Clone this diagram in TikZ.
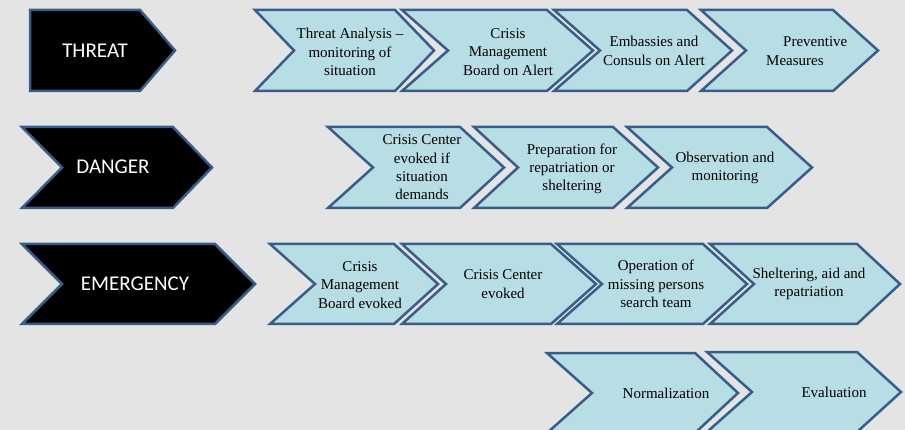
\documentclass[tikz,border=0pt]{standalone}
\usepackage{fontspec}
\setmainfont{Liberation Serif}
\newfontfamily\stagefont{Carlito}
\definecolor{bgGray}{RGB}{228,228,228}
\definecolor{chevFill}{RGB}{183,222,228}
\definecolor{chevLine}{RGB}{56,93,138}

\begin{document}
\begin{tikzpicture}[x=1pt,y=-1pt,
	chev/.style={draw=chevLine,line width=2.5pt,fill=chevFill},
	stage/.style={draw=chevLine,line width=2.5pt,fill=black},
	chevtext/.style={align=center,inner sep=0pt,font=\rmfamily\fontsize{15}{18.3}\selectfont},
	stagetext/.style={inner sep=0pt,text=white,font=\stagefont\fontsize{21}{25}\selectfont}]
	 \clip (0,0) rectangle (905,430);
	 \fill[bgGray] (0,0) rectangle (905,430);
	 
	 %Threat
	 \draw[stage] (30,10) -- (140,10) -- (175,50.5) -- (140,91) -- (30,91) -- cycle;
	 \node[stagetext] (threat) at (95,51) {THREAT};
	 
	 \draw[chev] (255,10) -- (395,10) -- (434,50.5) -- (395,91) -- (255,91) -- (294,50.5) -- cycle;
	 \draw[chev] (402,10) -- (547,10) -- (593,50.5) -- (547,91) -- (402,91) -- (448,50.5) -- cycle;
	 \draw[chev] (554,10) -- (687,10) -- (732,50.5) -- (687,91) -- (554,91) -- (600,50.5) -- cycle;
	 \draw[chev] (701,10) -- (833,10) -- (878,50.5) -- (833,91) -- (701,91) -- (746,50.5) -- cycle;
	 \node[chevtext] (t1) at (350,52) {Threat Analysis --\\monitoring of\\situation};
	 \node[chevtext] (t2) at (508,52) {Crisis\\Management\\Board on Alert};
	 \node[chevtext] (t3) at (654,51) {Embassies and\\Consuls on Alert};
	 \node[chevtext,align=left,anchor=west] (t4) at (766,51) {\hspace*{17pt}Preventive\\Measures};
	 
	 %Danger
	 \draw[stage] (22,127) -- (173,127) -- (212,167.5) -- (173,208) -- (22,208) -- (62,167.5) -- cycle;
	 \node[stagetext] (danger) at (113,167) {DANGER};
	 
	 \draw[chev] (328,127) -- (460,127) -- (504,167.5) -- (460,208) -- (328,208) -- (373,167.5) -- cycle;
	 \draw[chev] (474,127) -- (613,127) -- (658,167.5) -- (613,208) -- (474,208) -- (518,167.5) -- cycle;
	 \draw[chev] (627,127) -- (767,127) -- (812,167.5) -- (767,208) -- (627,208) -- (672,167.5) -- cycle;
	 \node[chevtext] (d1) at (422,167.5) {Crisis Center\\evoked if\\situation\\demands};
	 \node[chevtext] (d2) at (572,169) {Preparation for\\repatriation or\\sheltering};
	 \node[chevtext] (d3) at (725,168) {Observation and\\monitoring};
	 
	 %Emergency
	 \draw[stage] (22,244) -- (215,244) -- (255,284) -- (215,324) -- (22,324) -- (62,284) -- cycle;
	 \node[stagetext] (emergency) at (135,284) {EMERGENCY};
	 
	 \draw[chev] (270,244) -- (394,244) -- (438,284) -- (394,324) -- (270,324) -- (315,284) -- cycle;
	 \draw[chev] (402,244) -- (551,244) -- (596,284) -- (551,324) -- (402,324) -- (446,284) -- cycle;
	 \draw[chev] (557,244) -- (703,244) -- (747,284) -- (703,324) -- (557,324) -- (602,284) -- cycle;
	 \draw[chev] (710,244) -- (857,244) -- (900,284) -- (857,324) -- (710,324) -- (754,284) -- cycle;
	 \node[chevtext] (e1) at (360,285) {Crisis\\Management\\Board evoked};
	 \node[chevtext] (e2) at (503,284) {Crisis Center\\evoked};
	 \node[chevtext] (e3) at (656,284) {Operation of\\missing persons\\search team};
	 \node[chevtext] (e4) at (809,284) {Sheltering, aid and\\repatriation};
	 
	 %After
	 \draw[chev] (547,353) -- (695,353) -- (738,393) -- (695,433) -- (547,433) -- (592,393) -- cycle;
	 \draw[chev] (707,352) -- (857,352) -- (901,392) -- (857,432) -- (707,432) -- (752,392) -- cycle;
	 \node[chevtext] (n1) at (666,393) {Normalization};
	 \node[chevtext] (n2) at (834,392) {Evaluation};
\end{tikzpicture}
\end{document}
